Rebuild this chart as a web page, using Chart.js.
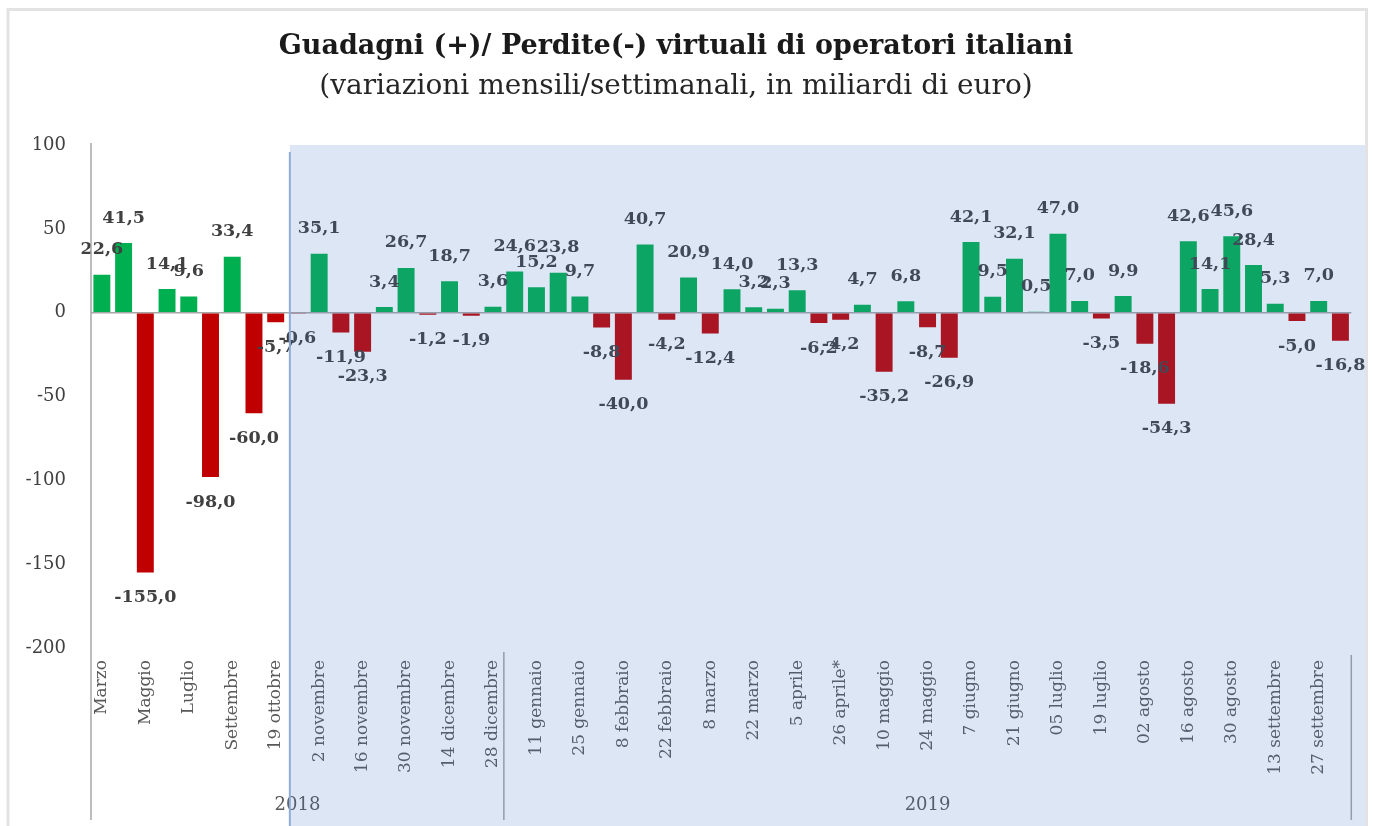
<!DOCTYPE html>
<html>
<head>
<meta charset="utf-8">
<script src="https://cdn.jsdelivr.net/npm/chart.js@4/dist/chart.umd.min.js"></script>
<style>
  html, body { margin: 0; padding: 0; background: #ffffff; }
  #wrap { width: 1373px; height: 826px; }
</style>
</head>
<body>
<div id="wrap"><canvas id="c" width="1373" height="826"></canvas></div>
<script>
// ---- data ----
const categories = [
  'Marzo', 'Aprile', 'Maggio', 'Giugno', 'Luglio', 'Agosto', 'Settembre',
  '12 ottobre', '19 ottobre', '26 ottobre', '2 novembre', '9 novembre', '16 novembre',
  '23 novembre', '30 novembre', '7 dicembre', '14 dicembre', '21 dicembre', '28 dicembre',
  '4 gennaio', '11 gennaio', '18 gennaio', '25 gennaio', '1 febbraio', '8 febbraio',
  '15 febbraio', '22 febbraio', '1 marzo', '8 marzo', '15 marzo', '22 marzo', '29 marzo',
  '5 aprile', '12 aprile', '26 aprile*', '3 maggio', '10 maggio', '17 maggio', '24 maggio',
  '31 maggio', '7 giugno', '14 giugno', '21 giugno', '28 giugno', '05 luglio', '12 luglio',
  '19 luglio', '26 luglio', '02 agosto', '09 agosto', '16 agosto', '23 agosto', '30 agosto',
  '06 settembre', '13 settembre', '20 settembre', '27 settembre', '4 ottobre'
];
const values = [
  22.6, 41.5, -155.0, 14.1, 9.6, -98.0, 33.4,
  -60.0, -5.7, -0.6, 35.1, -11.9, -23.3,
  3.4, 26.7, -1.2, 18.7, -1.9, 3.6,
  24.6, 15.2, 23.8, 9.7, -8.8, -40.0,
  40.7, -4.2, 20.9, -12.4, 14.0, 3.2, 2.3,
  13.3, -6.2, -4.2, 4.7, -35.2, 6.8, -8.7,
  -26.9, 42.1, 9.5, 32.1, 0.5, 47.0, 7.0,
  -3.5, 9.9, -18.6, -54.3, 42.6, 14.1, 45.6,
  28.4, 5.3, -5.0, 7.0, -16.8
];
const yearLabels = ['2018', '2019'];
const yearFirstIndex = [0, 19];
const yTicks = [100, 50, 0, -50, -100, -150, -200];
const shadedFromIndex = 9;

const titleText = 'Guadagni (+)/ Perdite(-) virtuali di operatori italiani';
const subtitleText = '(variazioni mensili/settimanali, in miliardi di euro)';

const GREEN = '#00b050';
const RED = '#c00000';
const SERIF = '"DejaVu Serif", "Liberation Serif", serif';

function fmt(v) { return v.toFixed(1).replace('.', ','); }

const decorPlugin = {
  id: 'decor',
  beforeDraw(chart) {
    const ctx = chart.ctx;
    ctx.save();
    ctx.fillStyle = '#ffffff';
    ctx.fillRect(0, 0, chart.width, chart.height);
    ctx.restore();
  },
  afterDatasetsDraw(chart) {
    const ctx = chart.ctx;
    const meta = chart.getDatasetMeta(0);
    ctx.save();
    ctx.font = 'bold 17.5px ' + SERIF;
    ctx.fillStyle = '#404040';
    ctx.textAlign = 'center';
    ctx.textBaseline = 'middle';
    meta.data.forEach((bar, i) => {
      const v = values[i];
      const y = v >= 0 ? bar.y - 25 : bar.y + 25;
      ctx.fillText(fmt(v), bar.x, y);
    });
    ctx.restore();
  },
  afterDraw(chart) {
    const ctx = chart.ctx;
    const xs = chart.scales.x;
    const area = chart.chartArea;
    const step = xs.getPixelForValue(1) - xs.getPixelForValue(0);
    const H = chart.height;

    ctx.save();
    // group axis lines
    ctx.strokeStyle = '#a6a6a6';
    ctx.lineWidth = 1.5;
    ctx.beginPath();
    ctx.moveTo(area.left, area.top - 2);
    ctx.lineTo(area.left, H - 6);
    const sepX = (xs.getPixelForValue(yearFirstIndex[1] - 1) + xs.getPixelForValue(yearFirstIndex[1])) / 2;
    ctx.moveTo(sepX, area.bottom + 4);
    ctx.lineTo(sepX, H - 6);
    ctx.moveTo(area.right, area.bottom + 7);
    ctx.lineTo(area.right, H - 6);
    ctx.stroke();

    // year labels
    ctx.font = '18px ' + SERIF;
    ctx.fillStyle = '#595959';
    ctx.textAlign = 'center';
    ctx.textBaseline = 'middle';
    const bounds = [area.left, sepX, area.right];
    yearLabels.forEach((lab, k) => {
      ctx.fillText(lab, (bounds[k] + bounds[k + 1]) / 2, 805);
    });

    // translucent blue panel
    const x0 = xs.getPixelForValue(shadedFromIndex) - 0.35 * step;
    ctx.fillStyle = 'rgba(68,114,196,0.18)';
    ctx.fillRect(x0, area.top, 1365 - x0, H - area.top);
    ctx.strokeStyle = '#8eaadb';
    ctx.lineWidth = 2;
    ctx.beginPath();
    ctx.moveTo(x0, area.top + 7);
    ctx.lineTo(x0, H);
    ctx.stroke();

    // outer frame
    ctx.strokeStyle = '#e3e3e3';
    ctx.lineWidth = 3;
    ctx.beginPath();
    ctx.moveTo(8, H);
    ctx.lineTo(8, 9.5);
    ctx.lineTo(1366.5, 9.5);
    ctx.lineTo(1366.5, H);
    ctx.stroke();
    ctx.restore();
  }
};

new Chart(document.getElementById('c'), {
  type: 'bar',
  data: {
    labels: categories,
    datasets: [{
      data: values,
      backgroundColor: values.map(v => v >= 0 ? GREEN : RED),
      borderWidth: 0,
      barPercentage: 0.78,
      categoryPercentage: 1.0
    }]
  },
  options: {
    responsive: false,
    animation: false,
    layout: { padding: { left: 0, right: 21, top: 0, bottom: 0 } },
    plugins: {
      legend: { display: false },
      tooltip: { enabled: false },
      title: {
        display: true,
        text: titleText,
        color: '#1a1a1a',
        font: { family: SERIF, size: 27, weight: 'bold', lineHeight: 1.2 },
        padding: { top: 30.8, bottom: 0 }
      },
      subtitle: {
        display: true,
        text: subtitleText,
        color: '#262626',
        font: { family: SERIF, size: 28, weight: 'normal', lineHeight: 1.2 },
        padding: { top: 7, bottom: 41.2 }
      }
    },
    scales: {
      x: {
        grid: { display: false, drawTicks: false },
        border: { display: false },
        ticks: {
          autoSkip: false,
          maxRotation: 90,
          minRotation: 90,
          padding: 12,
          color: '#595959',
          font: { family: SERIF, size: 17 },
          callback: (v, i) => (i % 2 === 0 ? categories[i] : '')
        },
        afterFit: s => { s.height = 178; }
      },
      y: {
        min: -200,
        max: 100,
        afterBuildTicks: s => { s.ticks = yTicks.map(v => ({ value: v })); },
        grid: {
          drawTicks: false,
          color: c => (c.tick && c.tick.value === 0 ? '#a6a6a6' : 'rgba(0,0,0,0)'),
          lineWidth: 1.5
        },
        border: { display: false },
        ticks: {
          padding: 25,
          color: '#404040',
          font: { family: SERIF, size: 18 },
          callback: v => String(v)
        },
        afterFit: s => { s.width = 91; }
      }
    }
  },
  plugins: [decorPlugin]
});
</script>
</body>
</html>
